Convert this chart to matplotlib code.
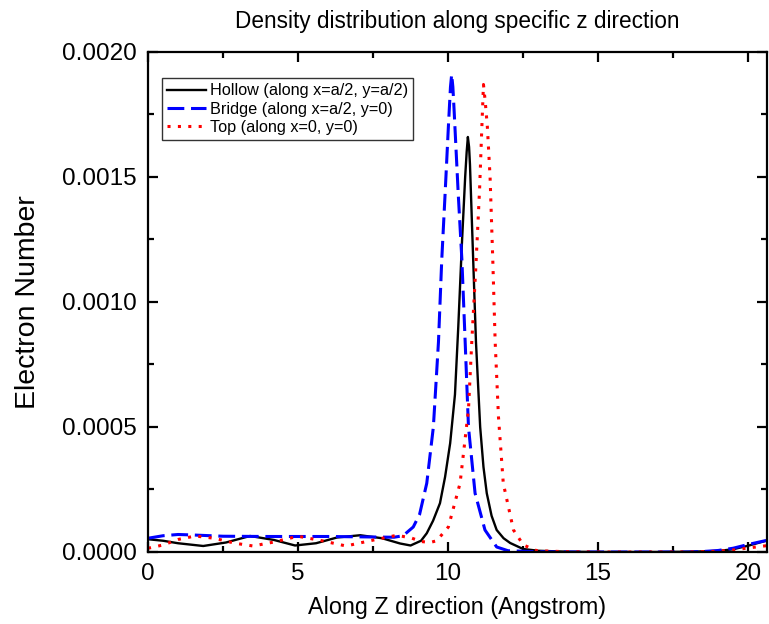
import matplotlib
matplotlib.use("Agg")
import matplotlib.pyplot as plt
from matplotlib.ticker import MultipleLocator, FormatStrFormatter

plt.rcParams['font.family'] = ['Liberation Sans', 'DejaVu Sans']

# Hollow (black solid)
z_hollow = [0, 0.5, 1.0, 1.84, 2.6, 3.4, 4.2, 4.9, 5.6, 6.3, 7.07, 7.8, 8.4, 8.75, 9.1, 9.29,
            9.5, 9.73, 9.9, 10.07, 10.23, 10.34, 10.46, 10.57, 10.62, 10.66, 10.70, 10.73,
            10.82, 10.93, 11.07, 11.18, 11.29, 11.45, 11.62, 11.85, 12.07, 12.5, 13.0, 14.0,
            15.0, 16.0, 17.0, 18.0, 19.0, 19.5, 20.0, 20.6]
v_hollow = [5.1e-5, 4.5e-5, 3.5e-5, 2.4e-5, 3.8e-5, 6.4e-5, 4.8e-5, 2.6e-5, 3.5e-5, 5.8e-5,
            6.7e-5, 5.5e-5, 3.4e-5, 2.6e-5, 4.5e-5, 7.5e-5, 1.25e-4, 1.95e-4, 3.0e-4, 4.35e-4,
            6.3e-4, 9.0e-4, 1.23e-3, 1.5e-3, 1.6e-3, 1.66e-3, 1.62e-3, 1.55e-3, 1.23e-3, 8.4e-4,
            5.0e-4, 3.4e-4, 2.35e-4, 1.45e-4, 8.8e-5, 5.5e-5, 3.6e-5, 1.2e-5, 5e-6, 1e-6,
            0.0, 0.0, 0.0, 1e-6, 4e-6, 1.1e-5, 2.5e-5, 4.5e-5]

# Bridge (blue dashed)
z_bridge = [0, 0.5, 1.0, 1.5, 2.5, 4.0, 6.0, 7.5, 8.2, 8.5, 8.84, 9.05, 9.29, 9.51, 9.68,
            9.79, 9.9, 10.01, 10.08, 10.12, 10.16, 10.2, 10.34, 10.46, 10.57, 10.68, 10.9,
            11.23, 11.62, 12.0, 13.0, 14.0, 15.0, 16.0, 17.0, 18.0, 18.5, 19.0, 19.5, 20.0, 20.6]
v_bridge = [5.5e-5, 6.5e-5, 7.0e-5, 6.8e-5, 6.3e-5, 6.2e-5, 6.2e-5, 6.0e-5, 5.9e-5, 6.5e-5,
            1.0e-4, 1.5e-4, 2.75e-4, 5.0e-4, 8.4e-4, 1.17e-3, 1.43e-3, 1.70e-3, 1.86e-3,
            1.91e-3, 1.86e-3, 1.77e-3, 1.43e-3, 1.17e-3, 8.4e-4, 5.0e-4, 2.35e-4, 8.8e-5,
            2e-5, 5e-6, 1e-6, 0.0, 0.0, 0.0, 0.0, 0.0, 2e-6, 6e-6, 1.5e-5, 3e-5, 4.6e-5]

# Top (red dotted)
z_top = [0, 0.5, 1.0, 1.57, 2.2, 2.9, 3.5, 4.2, 5.0, 5.8, 6.6, 7.4, 8.3, 8.8, 9.1, 9.4,
         9.62, 10.01, 10.4, 10.68, 10.79, 10.93, 11.05, 11.12, 11.18, 11.24, 11.31, 11.4,
         11.49, 11.57, 11.68, 11.84, 12.18, 12.51, 12.96, 14.0, 15.0, 16.0, 17.0, 18.0,
         19.0, 19.5, 20.0, 20.6]
v_top = [1.5e-5, 2.8e-5, 5.0e-5, 6.4e-5, 5.5e-5, 3.5e-5, 2.4e-5, 4.0e-5, 6.3e-5, 4.5e-5,
         2.4e-5, 4.5e-5, 6.7e-5, 5.5e-5, 4.2e-5, 3.8e-5, 4.5e-5, 1.0e-4, 2.75e-4, 5.7e-4,
         8.4e-4, 1.15e-3, 1.45e-3, 1.68e-3, 1.87e-3, 1.80e-3, 1.70e-3, 1.50e-3, 1.17e-3,
         8.4e-4, 5.4e-4, 2.75e-4, 8.8e-5, 2.8e-5, 5e-6, 1e-6, 0.0, 0.0, 0.0, 0.0,
         3e-6, 8e-6, 1.6e-5, 2.5e-5]

labels = ["Hollow (along x=a/2, y=a/2)", "Bridge (along x=a/2, y=0)", "Top (along x=0, y=0)"]

fig = plt.figure(figsize=(7.69, 6.24), dpi=100)
ax = fig.add_axes([0.1925, 0.1154, 0.8049, 0.8013])

ax.plot(z_hollow, v_hollow, color='black', lw=1.7, label=labels[0])
ax.plot(z_bridge, v_bridge, color='#0000ff', lw=2.2, ls=(0, (5.5, 2.2)), label=labels[1])
ax.plot(z_top, v_top, color='#ff0000', lw=2.2, ls=(0, (1, 2.4)), label=labels[2])

ax.set_xlim(0, 20.63)
ax.set_ylim(0, 0.0020)
ax.xaxis.set_major_locator(MultipleLocator(5))
ax.xaxis.set_minor_locator(MultipleLocator(2.5))
ax.yaxis.set_major_locator(MultipleLocator(0.0005))
ax.yaxis.set_minor_locator(MultipleLocator(0.00025))
ax.yaxis.set_major_formatter(FormatStrFormatter('%.4f'))

ax.tick_params(which='both', direction='in', top=True, right=True, width=1.6,
               labelsize=17.5, pad=8)
ax.tick_params(which='major', length=7)
ax.tick_params(which='minor', length=4)
for s in ax.spines.values():
    s.set_linewidth(1.6)

ax.set_xlabel("Along Z direction (Angstrom)", fontsize=16.8, labelpad=8)
ax.set_ylabel("Electron Number", fontsize=20.5, labelpad=15)
ax.set_title("Density distribution along specific z direction", fontsize=16.3, pad=17)

leg = ax.legend(loc='upper left', bbox_to_anchor=(0.022, 0.947), borderaxespad=0,
                fontsize=11.7, frameon=True, fancybox=False, edgecolor='black',
                handlelength=2.4, handletextpad=0.25, labelspacing=0.2, borderpad=0.3)
leg.get_frame().set_linewidth(1.0)

fig.savefig("out.png", dpi=100)
